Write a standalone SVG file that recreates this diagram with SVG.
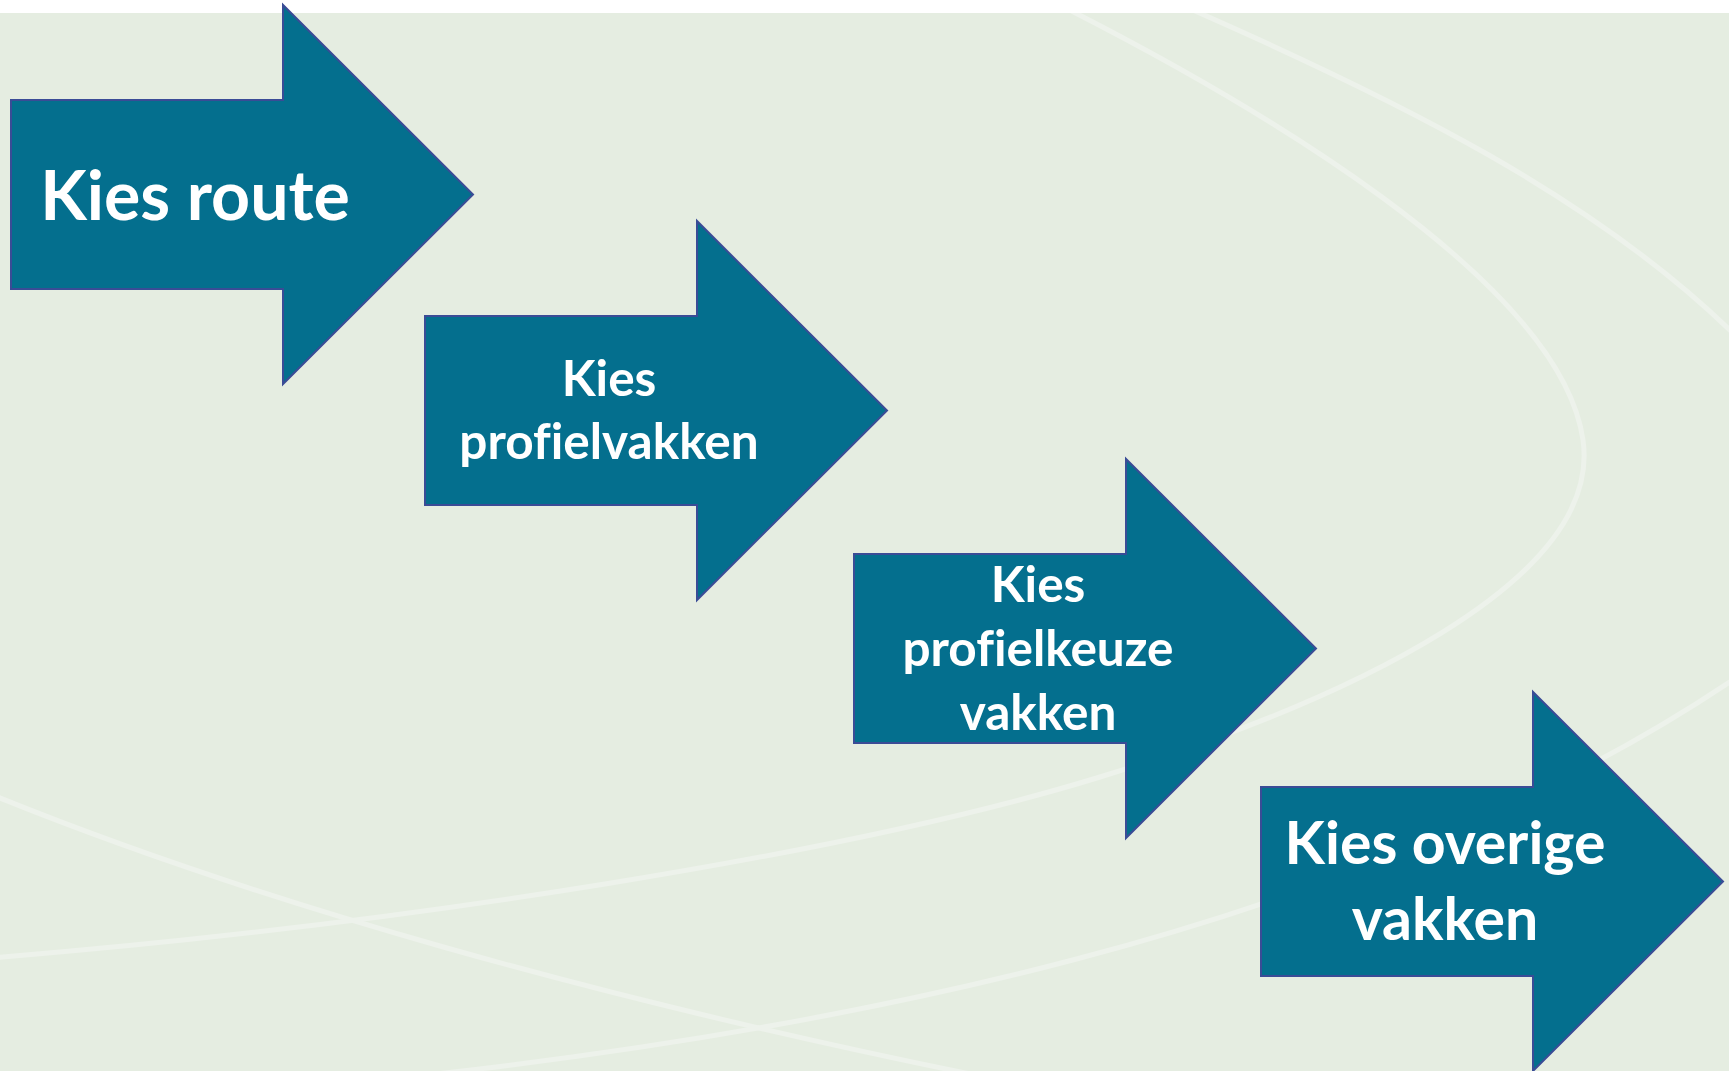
<svg xmlns="http://www.w3.org/2000/svg" width="1729" height="1071" viewBox="0 0 1729 1071">
  <style>
    .bg { fill: #E5EDE1; }
    .swoosh { fill: none; stroke: #EDF2EB; stroke-width: 5; }
    .arrow { fill: #046F8E; stroke: #3A4C96; stroke-width: 2; stroke-linejoin: miter; }
    .label { fill: #FFFFFF; font-family: Lato, "Open Sans", "Noto Sans", sans-serif; font-weight: 700; text-anchor: middle; font-variant-ligatures: none; font-feature-settings: "liga" 0; }
    .s52 { font-size: 49.5px; }
    .s72 { font-size: 68px; }
    .s62 { font-size: 59px; }
  </style>
  <defs>
    <clipPath id="bgclip">
      <rect x="0" y="13" width="1729" height="1058"/>
    </clipPath>
  </defs>
  <rect x="0" y="0" width="1729" height="1071" fill="#FFFFFF"/>
  <rect class="bg" x="0" y="13" width="1729" height="1058"/>
  <g id="background-lines" clip-path="url(#bgclip)">
    <path class="swoosh" d="M 1040 -5 C 1250 100, 1560 280, 1583 440 C 1603 580, 1350 700, 1100 777 C 850 854, 400 925, -10 958"/>
    <path class="swoosh" d="M 1170 0 C 1400 100, 1600 200, 1740 340"/>
    <path class="swoosh" d="M -10 794 C 250 900, 600 1000, 1000 1080"/>
    <path class="swoosh" d="M 400 1078 C 800 1035, 1350 940, 1740 675"/>
  </g>
  <g id="connectors"></g>
  <g id="node-kies-route">
    <polygon class="arrow" points="11,100 283,100 283,5 473,194.5 283,384 283,289 11,289"/>
    <text class="label s72" x="195" y="220">Kies route</text>
  </g>
  <g id="node-kies-profielvakken">
    <polygon class="arrow" points="425,316 697,316 697,221 887,410.5 697,600 697,505 425,505"/>
    <text class="label s52" x="609" y="396">Kies</text>
    <text class="label s52" x="609" y="459">profielvakken</text>
  </g>
  <g id="node-kies-profielkeuze-vakken">
    <polygon class="arrow" points="854,554 1126,554 1126,459 1316,648.5 1126,838 1126,743 854,743"/>
    <text class="label s52" x="1038" y="602">Kies</text>
    <text class="label s52" x="1038" y="666">profielkeuze</text>
    <text class="label s52" x="1038" y="730">vakken</text>
  </g>
  <g id="node-kies-overige-vakken">
    <polygon class="arrow" points="1261,787 1533,787 1533,692 1723,881.5 1533,1071 1533,976 1261,976"/>
    <text class="label s62" x="1445" y="864">Kies overige</text>
    <text class="label s62" x="1445" y="940">vakken</text>
  </g>
</svg>
